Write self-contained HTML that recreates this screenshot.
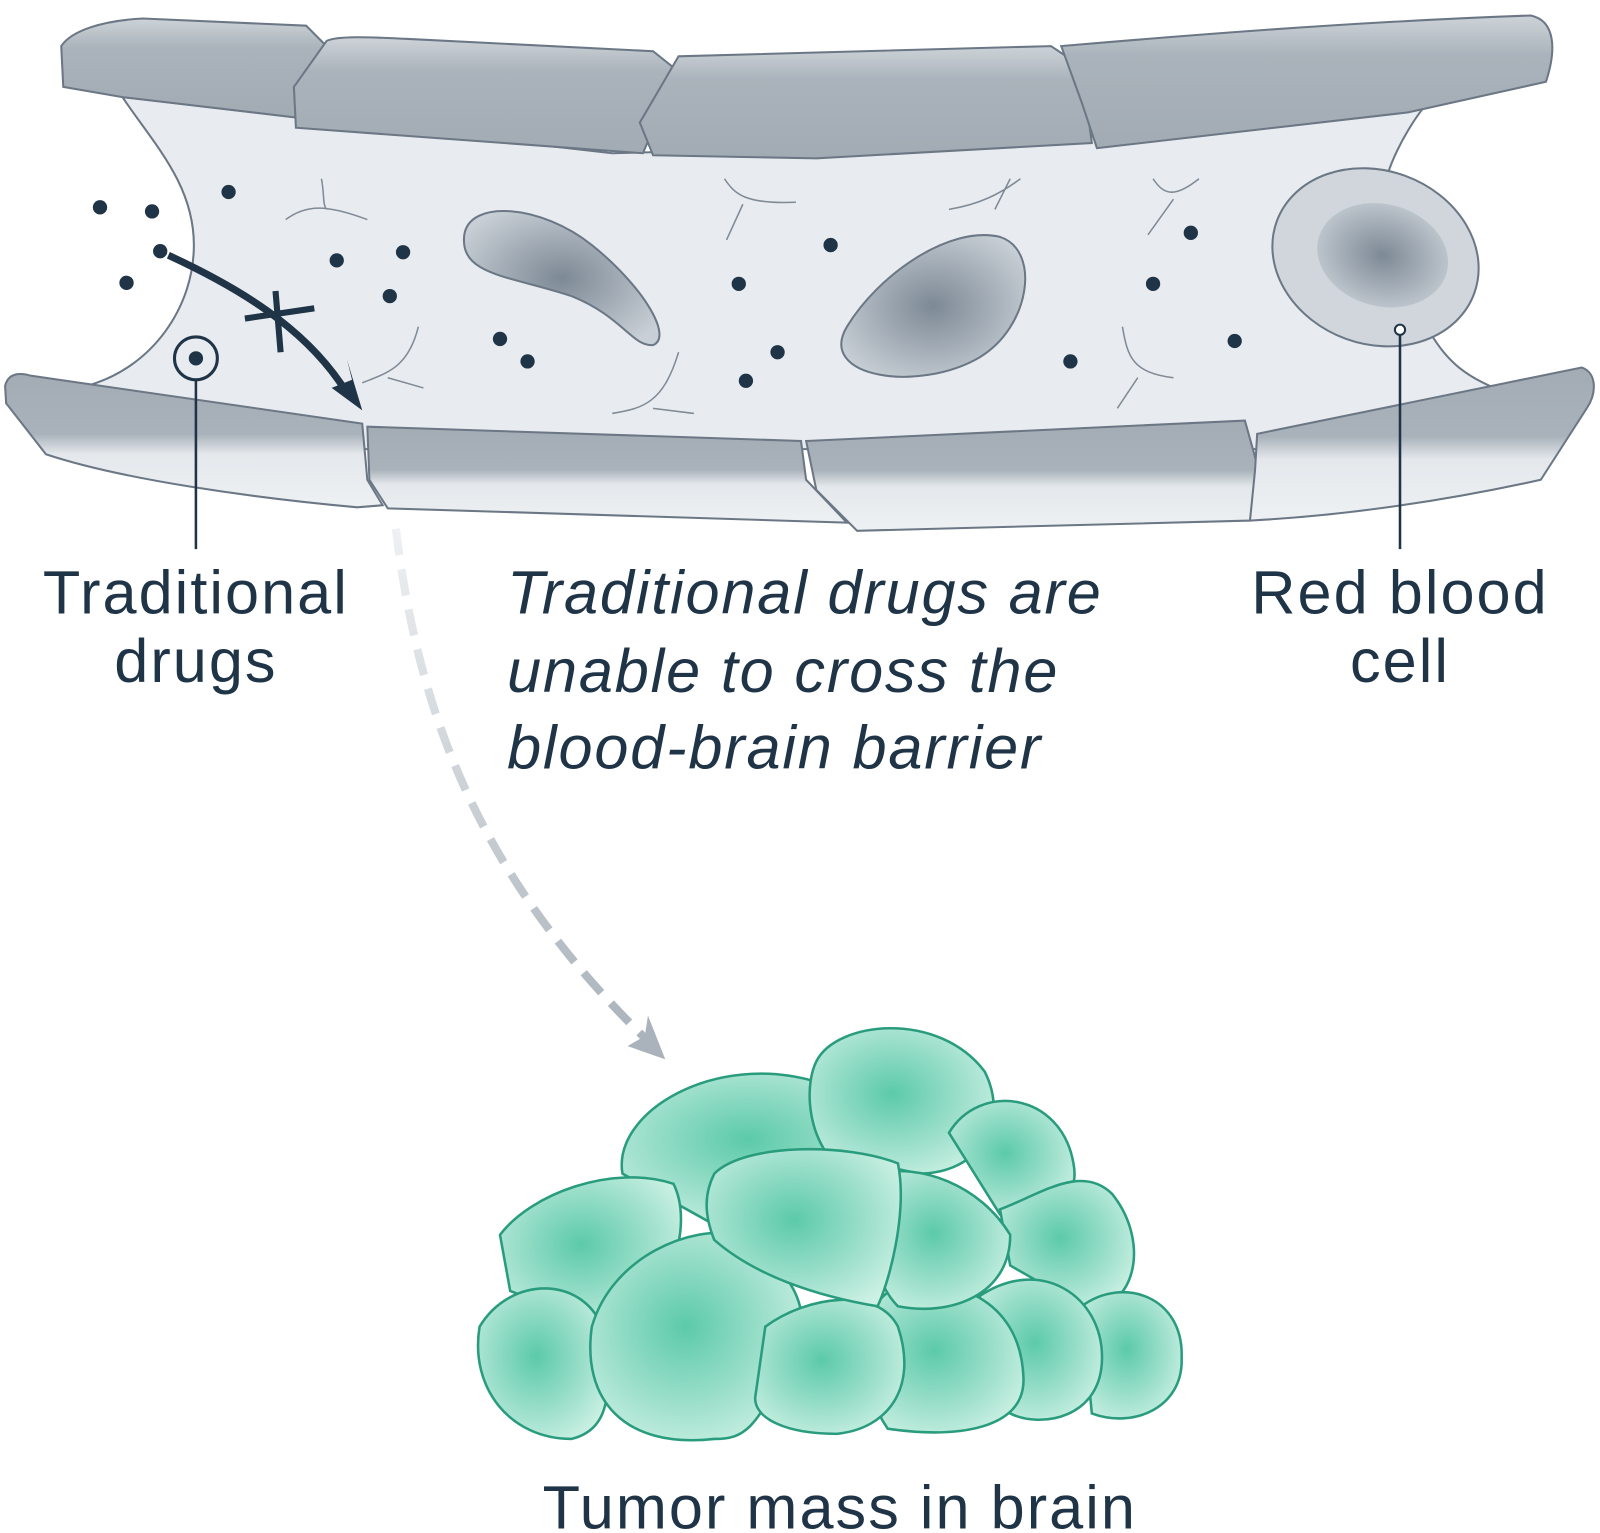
<!DOCTYPE html>
<html><head><meta charset="utf-8"><style>
html,body{margin:0;padding:0;background:#fff;width:1600px;height:1533px;overflow:hidden}
svg{display:block}
text{font-family:"Liberation Sans",sans-serif;fill:#1f3447}
</style></head><body>
<svg width="1600" height="1533" viewBox="0 0 1568 1502" xmlns="http://www.w3.org/2000/svg">
<defs>
<linearGradient id="bw" x1="0" y1="0" x2="0" y2="1"><stop offset="0" stop-color="#a3acb4"/><stop offset="0.45" stop-color="#a9b2ba"/><stop offset="0.6" stop-color="#e4e8ec"/><stop offset="1" stop-color="#eef1f3"/></linearGradient>
<linearGradient id="tw" x1="0" y1="0" x2="0" y2="1"><stop offset="0" stop-color="#cdd3d8"/><stop offset="0.3" stop-color="#aab3bb"/><stop offset="1" stop-color="#a2abb3"/></linearGradient>
<radialGradient id="rbc" cx="0.5" cy="0.5" r="0.6"><stop offset="0" stop-color="#7d8995"/><stop offset="1" stop-color="#c8cfd6"/></radialGradient>
<radialGradient id="tc" cx="0.45" cy="0.45" r="0.65"><stop offset="0" stop-color="#5ccaa9"/><stop offset="0.6" stop-color="#9fe0cc"/><stop offset="1" stop-color="#cdf1e5"/></radialGradient>
<linearGradient id="dash" x1="0" y1="0" x2="0" y2="1"><stop offset="0" stop-color="#eef1f3"/><stop offset="1" stop-color="#aab3bb"/></linearGradient>
</defs>
<path d="M120,95 C150,140 190,180 190,240 C190,300 150,360 85,378 L80,440 L1470,440 L1460,378 C1420,360 1380,330 1360,170 C1370,140 1390,110 1400,100 L1000,140 L600,150 Z" fill="#e8ecf0" stroke="#6b7785" stroke-width="2"/>
<g stroke="#6b7785" stroke-width="2" fill="url(#tw)">
<path d="M60,45 C70,30 100,20 140,18 L300,25 L320,45 L290,115 L120,95 L62,85 Z"/>
<path d="M320,40 C330,35 360,36 400,38 L640,50 L665,70 L630,150 L290,125 L288,85 Z"/>
<path d="M665,55 L1030,45 L1060,65 L1070,140 L800,155 L640,152 L627,120 Z"/>
<path d="M1040,45 C1100,40 1300,22 1500,15 C1525,20 1525,50 1515,80 L1380,110 L1075,145 L1060,100 Z"/>
</g>
<g stroke="#7f8a96" stroke-width="1.5" fill="none">
<path d="M280,215 C300,200 320,200 360,215 M315,175 C318,190 316,200 320,205"/>
<path d="M710,175 C720,190 730,200 780,198 M728,200 L712,235"/>
<path d="M930,205 C960,200 980,190 1000,175 M975,205 L990,175"/>
<path d="M1130,175 C1140,190 1150,195 1175,175 M1150,195 L1125,230"/>
<path d="M355,375 C380,365 400,360 410,320 M380,370 L415,380"/>
<path d="M600,405 C630,400 650,395 665,345 M640,400 L680,405"/>
<path d="M1100,320 C1105,350 1110,365 1150,370 M1115,370 L1095,400"/>
</g>
<path d="M455,230 C460,195 530,200 580,240 C630,280 660,330 640,338 C620,340 610,310 560,290 C500,270 450,270 455,230 Z" fill="url(#rbc)" stroke="#6b7785" stroke-width="2"/>
<path d="M830,320 C860,270 930,220 980,232 C1020,245 1010,320 960,350 C900,385 800,370 830,320 Z" fill="url(#rbc)" stroke="#6b7785" stroke-width="2"/>
<ellipse cx="1348" cy="252" rx="103" ry="85" fill="#d0d6dc" stroke="#6b7785" stroke-width="2" transform="rotate(20 1348 252)"/>
<ellipse cx="1355" cy="250" rx="65" ry="50" fill="url(#rbc)" transform="rotate(15 1355 250)"/>
<g stroke="#6b7785" stroke-width="2" fill="url(#bw)">
<path d="M5,378 C8,365 20,365 30,368 L355,415 L360,470 L375,495 L350,497 C250,488 120,470 45,445 L6,395 Z"/>
<path d="M360,418 L785,432 L790,470 L830,512 L380,498 L362,470 Z"/>
<path d="M790,432 L1220,412 L1232,455 L1225,510 L840,520 L800,480 Z"/>
<path d="M1232,425 C1350,400 1450,380 1550,360 C1565,365 1565,385 1555,400 L1510,470 C1420,490 1320,505 1225,510 L1230,460 Z"/>
</g>
<g fill="#1f3447">
<circle cx="98" cy="203" r="7"/><circle cx="149" cy="207" r="7"/><circle cx="157" cy="246" r="7"/><circle cx="124" cy="277" r="7"/><circle cx="224" cy="188" r="7"/>
<circle cx="330" cy="255" r="7"/><circle cx="395" cy="247" r="7"/><circle cx="382" cy="290" r="7"/><circle cx="490" cy="332" r="7"/><circle cx="517" cy="354" r="7"/>
<circle cx="724" cy="278" r="7"/><circle cx="814" cy="240" r="7"/><circle cx="762" cy="345" r="7"/><circle cx="731" cy="373" r="7"/>
<circle cx="1167" cy="228" r="7"/><circle cx="1130" cy="278" r="7"/><circle cx="1049" cy="354" r="7"/><circle cx="1210" cy="334" r="7"/>
</g>
<path d="M165,250 C230,280 300,320 340,385" stroke="#1f3447" stroke-width="7" fill="none"/>
<path d="M355,402 L325,380 L345,372 L340,352 Z" fill="#1f3447"/>
<path d="M240,312 L308,302 M270,285 L275,345" stroke="#1f3447" stroke-width="6"/>
<circle cx="192" cy="351" r="21" fill="none" stroke="#1f3447" stroke-width="3"/>
<circle cx="192" cy="351" r="7" fill="#1f3447"/>
<line x1="192" y1="372" x2="192" y2="538" stroke="#1f3447" stroke-width="2.5"/>
<circle cx="1372" cy="323" r="5" fill="#fff" stroke="#1f3447" stroke-width="2"/>
<line x1="1372" y1="328" x2="1372" y2="538" stroke="#1f3447" stroke-width="2.5"/>
<path d="M388,518 C410,700 470,860 635,1020" stroke="url(#dash)" stroke-width="8" fill="none" stroke-dasharray="26,14"/>
<path d="M652,1038 L615,1025 L632,1015 L635,995 Z" fill="#aab3bb"/>
<g stroke="#2a9c7e" stroke-width="2.5" fill="url(#tc)">
<path d="M610,1150 C600,1090 700,1030 800,1060 C830,1030 900,1060 880,1130 L700,1200 Z"/>
<path d="M800,1040 C820,1000 920,990 965,1050 C990,1100 960,1150 900,1150 L810,1130 C790,1100 790,1060 800,1040 Z"/>
<path d="M930,1110 C960,1060 1040,1070 1052,1140 C1060,1180 1020,1200 980,1190 Z"/>
<path d="M980,1185 C1020,1170 1060,1140 1090,1170 C1130,1220 1110,1290 1060,1280 L990,1240 Z"/>
<path d="M490,1210 C520,1170 600,1140 660,1160 C680,1200 660,1280 590,1300 L500,1265 Z"/>
<path d="M470,1300 C500,1250 570,1250 590,1300 C600,1360 600,1400 560,1410 C500,1410 460,1360 470,1300 Z"/>
<path d="M1060,1280 C1100,1250 1160,1270 1158,1330 C1160,1380 1110,1400 1070,1385 Z"/>
<path d="M960,1270 C1020,1230 1080,1270 1080,1330 C1080,1390 1020,1400 990,1385 Z"/>
<path d="M880,1260 C930,1250 1000,1270 1003,1350 C1005,1400 940,1410 870,1400 C830,1340 840,1280 880,1260 Z"/>
<path d="M580,1300 C600,1230 680,1200 720,1210 C790,1250 800,1300 770,1340 C740,1400 730,1410 700,1410 C610,1420 570,1370 580,1300 Z"/>
<path d="M750,1300 C790,1270 860,1260 880,1300 C900,1360 870,1400 820,1405 C770,1405 740,1390 740,1370 Z"/>
<path d="M860,1150 C900,1140 960,1160 990,1210 C990,1270 930,1290 880,1280 C850,1250 850,1190 860,1150 Z"/>
<path d="M700,1150 C730,1120 830,1120 880,1140 C890,1190 870,1260 860,1280 C800,1270 740,1250 700,1215 C690,1190 690,1170 700,1150 Z"/>
</g>
<g font-size="60" letter-spacing="2">
<text x="192" y="601" text-anchor="middle">Traditional</text>
<text x="192" y="668" text-anchor="middle">drugs</text>
<text x="1372" y="601" text-anchor="middle">Red blood</text>
<text x="1372" y="668" text-anchor="middle">cell</text>
<text x="823" y="1498" text-anchor="middle">Tumor mass in brain</text>
</g>
<g font-size="60" font-style="italic" letter-spacing="1.8">
<text x="497" y="601">Traditional drugs are</text>
<text x="497" y="678">unable to cross the</text>
<text x="497" y="753">blood-brain barrier</text>
</g>
</svg>
</body></html>
